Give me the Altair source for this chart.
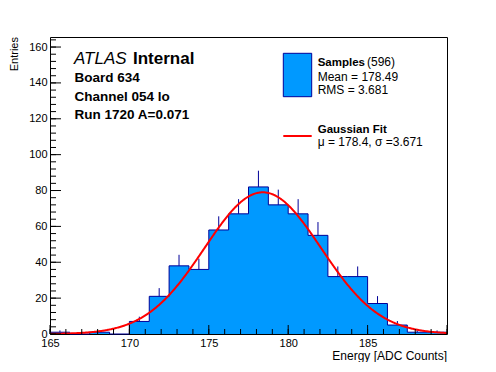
import altair as alt
import pandas as pd

# ---- data ----
bin_low = [165.0, 166.25, 167.5, 168.75, 170.0, 171.25, 172.5, 173.75, 175.0, 176.25,
           177.5, 178.75, 180.0, 181.25, 182.5, 183.75, 185.0, 186.25, 187.5, 188.75]
bin_high = [166.25, 167.5, 168.75, 170.0, 171.25, 172.5, 173.75, 175.0, 176.25, 177.5,
            178.75, 180.0, 181.25, 182.5, 183.75, 185.0, 186.25, 187.5, 188.75, 190.0]
counts = [1, 0, 1, 0, 7, 21, 38, 36, 58, 67, 82, 72, 67, 55, 32, 32, 17, 5, 1, 1]

x_tick_labels = [165, 170, 175, 180, 185]
y_tick_labels = [0, 20, 40, 60, 80, 100, 120, 140, 160]

fit_mu = 178.4
fit_sigma = 3.671
fit_constant = 79.0

n_samples = 596
sample_mean = 178.49
sample_rms = 3.681

x_range = [165, 190]
y_range = [0, 165.6]

# ---- styling ----
FONT = "Liberation Sans"
FILL = "#0099ff"
NAVY = "#000099"
W, H = 397, 297

hist_df = pd.DataFrame({"low": bin_low, "high": bin_high, "count": counts})
step_df = pd.DataFrame({"edge": bin_low + [bin_high[-1]], "count": counts + [counts[-1]]})
one = pd.DataFrame({"k": [0]})

xscale = alt.Scale(domain=x_range, nice=False, zero=False)
yscale = alt.Scale(domain=y_range, nice=False, zero=True)

xaxis = alt.Axis(values=x_tick_labels, ticks=False, tickSize=0, domain=False, grid=False,
                 labelFontSize=11, labelFont=FONT, labelColor="black", labelPadding=3,
                 labelFlush=False, labelOverlap=False, title=None)
yaxis = alt.Axis(values=y_tick_labels, ticks=False, tickSize=0, domain=False, grid=False,
                 labelFontSize=11, labelFont=FONT, labelColor="black", labelPadding=3,
                 labelFlush=False, labelOverlap=False, title=None)


def X(field):
    return alt.X(field, scale=xscale, axis=xaxis)


def Y(field):
    return alt.Y(field, scale=yscale, axis=yaxis)


area = alt.Chart(step_df).mark_area(interpolate="step-after", color=FILL, opacity=1).encode(
    x=X("edge:Q"), y=Y("count:Q"),
)
outline = alt.Chart(step_df).mark_line(interpolate="step-after", color=NAVY, strokeWidth=1).encode(
    x=X("edge:Q"), y=Y("count:Q"),
)
errors = alt.Chart(hist_df).transform_filter("datum.count > 0").transform_calculate(
    center="(datum.low + datum.high) / 2", top="datum.count + sqrt(datum.count)"
).mark_rule(color=NAVY, strokeWidth=1).encode(
    x=X("center:Q"), y=Y("count:Q"), y2="top:Q",
)
gauss = alt.Chart(alt.sequence(x_range[0], x_range[1] + 0.01, 0.05, as_="e")).transform_calculate(
    g=f"{fit_constant} * exp(-0.5 * pow((datum.e - {fit_mu}) / {fit_sigma}, 2))"
).mark_line(color="#ff0000", strokeWidth=2, clip=True).encode(
    x=X("e:Q"), y=Y("g:Q"),
)


# inward ticks (ROOT style)
def xticks(step, length):
    return alt.Chart(alt.sequence(x_range[0], x_range[1] + 0.01, step, as_="t")).mark_rule(
        color="black", strokeWidth=1).encode(
        x=X("t:Q"), y=alt.value(H), y2=alt.value(H - length))


def yticks(step, length):
    return alt.Chart(alt.sequence(0, y_range[1], step, as_="t")).mark_rule(
        color="black", strokeWidth=1).encode(
        y=Y("t:Q"), x=alt.value(0), x2=alt.value(length))


def txt(s, x, y, size=12, weight="normal", style="normal", align="left", baseline="alphabetic", angle=None):
    kw = dict(text=s, fontSize=size, fontWeight=weight, fontStyle=style, align=align,
              baseline=baseline, font=FONT, color="black")
    if angle is not None:
        kw["angle"] = angle
    return alt.Chart(one).mark_text(**kw).encode(x=alt.value(x), y=alt.value(y))


legend_box = alt.Chart(one).mark_rect(fill=FILL, stroke=NAVY, strokeWidth=1).encode(
    x=alt.value(233.3), x2=alt.value(261.7), y=alt.value(16.3), y2=alt.value(59.7))
legend_line = alt.Chart(one).mark_rule(color="#ff0000", strokeWidth=2).encode(
    x=alt.value(233.3), x2=alt.value(261.7), y=alt.value(99))

texts = [
    txt("ATLAS", 24, 27, size=17, style="italic"),
    txt("Internal", 83, 27, size=17, weight="bold"),
    txt("Board 634", 24.5, 44.7, size=13.5, weight="bold"),
    txt("Channel 054 lo", 24.5, 64, size=13.5, weight="bold"),
    txt("Run 1720 A=0.071", 24.5, 82.3, size=13.5, weight="bold"),
    txt("Samples", 267.7, 29, size=11.5, weight="bold"),
    txt(f"({n_samples})", 317, 29, size=12),
    txt(f"Mean = {sample_mean}", 267.7, 43.7, size=12),
    txt(f"RMS = {sample_rms}", 267.7, 57.3, size=12),
    txt("Gaussian Fit", 267.7, 96.3, size=11.5, weight="bold"),
    txt(f"\u03bc = {fit_mu}, \u03c3 ={fit_sigma}", 267.7, 108.8, size=12),
    txt("Energy [ADC Counts]", W, 323, size=12, align="right"),
    txt("Entries", -35, 0, size=11, align="right", baseline="middle", angle=270),
]

chart = alt.layer(
    area, outline, errors, gauss,
    xticks(5, 9), xticks(1, 5), yticks(20, 11), yticks(4, 6),
    legend_box, legend_line, *texts,
).properties(
    width=W, height=H,
    padding={"left": 42, "top": 29, "right": 37, "bottom": 28},
    autosize=alt.AutoSizeParams(type="none"),
    background="white",
).configure_view(stroke="black", strokeWidth=1)

chart.save("out.html", embed_options={"renderer": "svg", "actions": False})
